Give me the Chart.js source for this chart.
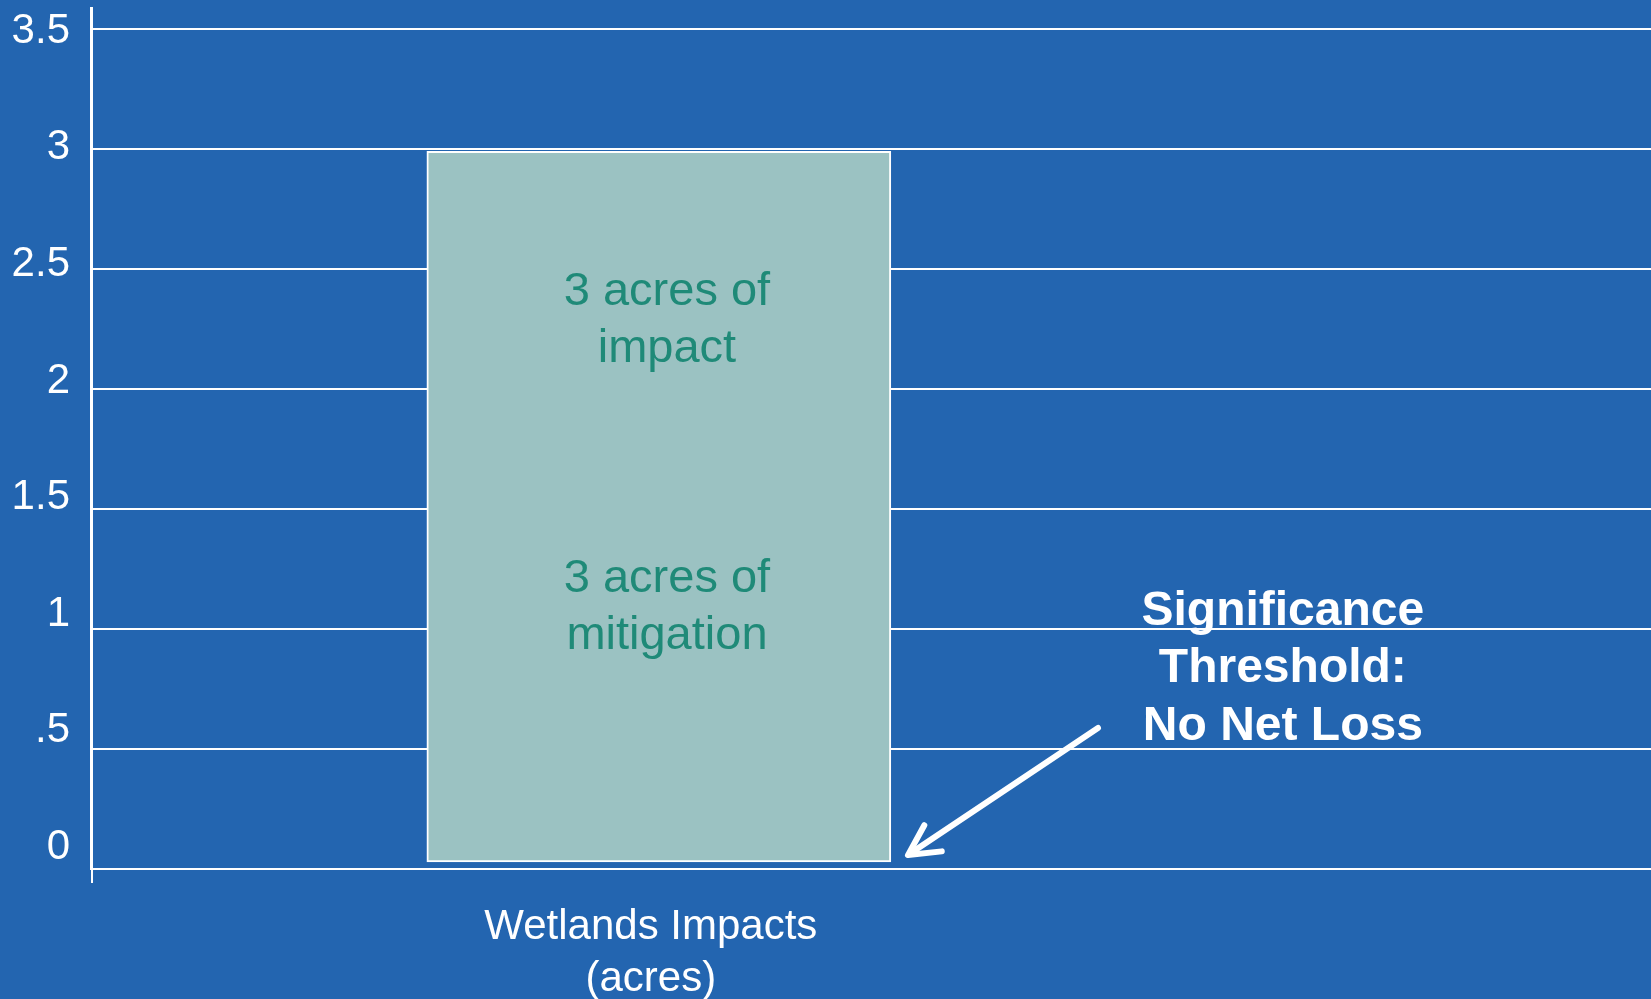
<!DOCTYPE html>
<html>
<head>
<meta charset="utf-8">
<script src="https://cdn.jsdelivr.net/npm/chart.js@4.4.1/dist/chart.umd.min.js"></script>
<style>
  html, body { margin: 0; padding: 0; background: #2365B0; overflow: hidden; }
  #wrap { width: 1651px; height: 999px; position: relative; }
</style>
</head>
<body>
<div id="wrap"><canvas id="chart"></canvas></div>
<script>
// data
const categories = ['Wetlands Impacts', '(acres)'];   // one category, two-line label
const barPosition = [0.364];                          // where the single bar sits along the x range
const barRange = [[0.03, 2.99]];                      // acres, bottom / top of the bar
const yTickValues = [0, 0.5, 1, 1.5, 2, 2.5, 3, 3.5];
const yTickLabels = ['0', '.5', '1', '1.5', '2', '2.5', '3', '3.5'];

// text that sits on the chart (x in 0..1 of the x range, y in acres)
const barNotes = [
  { lines: ['3 acres of', 'impact'], x: 0.3692, y: 2.35 },
  { lines: ['3 acres of', 'mitigation'], x: 0.3692, y: 1.154 }
];
const thresholdNote = { lines: ['Significance', 'Threshold:', 'No Net Loss'], x: 0.764, y: 1.0167 };
const arrow = { from: [0.6455, 0.5875], to: [0.5237, 0.058] };

const FONT = "'Liberation Sans', Arial, sans-serif";

const notesPlugin = {
  id: 'notes',
  afterDatasetsDraw(chart) {
    const ctx = chart.ctx;
    const xs = chart.scales.x, ys = chart.scales.y;
    const area = chart.chartArea;
    ctx.save();

    // little tick under the corner of the axes
    ctx.strokeStyle = '#ffffff';
    ctx.lineWidth = 2;
    ctx.beginPath();
    ctx.moveTo(area.left + 1, area.bottom);
    ctx.lineTo(area.left + 1, area.bottom + 14);
    ctx.stroke();

    ctx.textAlign = 'center';
    ctx.textBaseline = 'alphabetic';

    ctx.fillStyle = '#1F8A78';
    ctx.font = '47px ' + FONT;
    barNotes.forEach(n => {
      const px = xs.getPixelForValue(n.x);
      const py = ys.getPixelForValue(n.y);
      n.lines.forEach((t, i) => ctx.fillText(t, px, py + i * 57));
    });

    ctx.fillStyle = '#ffffff';
    ctx.font = 'bold 48px ' + FONT;
    const tx = xs.getPixelForValue(thresholdNote.x);
    const ty = ys.getPixelForValue(thresholdNote.y);
    thresholdNote.lines.forEach((t, i) => ctx.fillText(t, tx, ty + i * 57.5));

    // arrow pointing at the bar's base
    const x1 = xs.getPixelForValue(arrow.from[0]), y1 = ys.getPixelForValue(arrow.from[1]);
    const x2 = xs.getPixelForValue(arrow.to[0]), y2 = ys.getPixelForValue(arrow.to[1]);
    const ang = Math.atan2(y1 - y2, x1 - x2);
    ctx.lineWidth = 6;
    ctx.lineCap = 'round';
    ctx.lineJoin = 'round';
    ctx.beginPath();
    ctx.moveTo(x1, y1);
    ctx.lineTo(x2 + Math.cos(ang) * 4, y2 + Math.sin(ang) * 4);
    ctx.stroke();
    ctx.beginPath();
    ctx.moveTo(x2 + Math.cos(ang - 0.48) * 34, y2 + Math.sin(ang - 0.48) * 34);
    ctx.lineTo(x2, y2);
    ctx.lineTo(x2 + Math.cos(ang + 0.48) * 34, y2 + Math.sin(ang + 0.48) * 34);
    ctx.stroke();
    ctx.restore();
  }
};

new Chart(document.getElementById('chart'), {
  type: 'bar',
  data: {
    datasets: [{
      label: 'Wetlands Impacts (acres)',
      data: barPosition.map((x, i) => ({ x: x, y: barRange[i] })),
      backgroundColor: '#9BC2C2',
      borderColor: '#ffffff',
      borderWidth: 2,
      borderSkipped: false,
      barThickness: 464
    }]
  },
  options: {
    responsive: true,
    maintainAspectRatio: false,
    animation: false,
    layout: { padding: { left: 12, top: 8, right: 0, bottom: 0 } },
    plugins: {
      legend: { display: false },
      tooltip: { enabled: false }
    },
    scales: {
      x: {
        type: 'linear',
        min: 0,
        max: 1,
        offset: false,
        afterBuildTicks: (scale) => { scale.ticks = barPosition.map(v => ({ value: v })); },
        afterFit: (scale) => {
          scale.height = 130;
          scale.paddingLeft = 0; scale.paddingRight = 0;
        },
        grid: { display: false, drawTicks: false, offset: false },
        border: { display: true, color: '#ffffff', width: 2 },
        ticks: {
          callback: () => categories,
          color: '#ffffff',
          font: { family: FONT, size: 42, lineHeight: 1.25 },
          padding: 32,
          labelOffset: -8,
          maxRotation: 0
        }
      },
      y: {
        min: 0,
        max: 3.5875,
        weight: 0,
        afterBuildTicks: (scale) => { scale.ticks = yTickValues.map(v => ({ value: v })); },
        afterFit: (scale) => {
          scale.width = 0;
          scale.paddingTop = 0; scale.paddingBottom = 0;
        },
        grid: { color: '#ffffff', lineWidth: 2, drawTicks: false },
        border: { display: true, color: '#ffffff', width: 3 },
        ticks: { display: false }
      },
      yLabels: {
        position: 'left',
        min: -0.092,
        max: 3.5986,
        weight: 1,
        afterBuildTicks: (scale) => { scale.ticks = yTickValues.map(v => ({ value: v })); },
        afterFit: (scale) => {
          scale.width = 79;
          scale.paddingTop = 0; scale.paddingBottom = 0;
        },
        grid: { display: false, drawTicks: false },
        border: { display: false },
        ticks: {
          callback: (v, i) => yTickLabels[i],
          color: '#ffffff',
          font: { family: FONT, size: 42 },
          padding: 21
        }
      }
    }
  },
  plugins: [notesPlugin]
});
</script>
</body>
</html>
